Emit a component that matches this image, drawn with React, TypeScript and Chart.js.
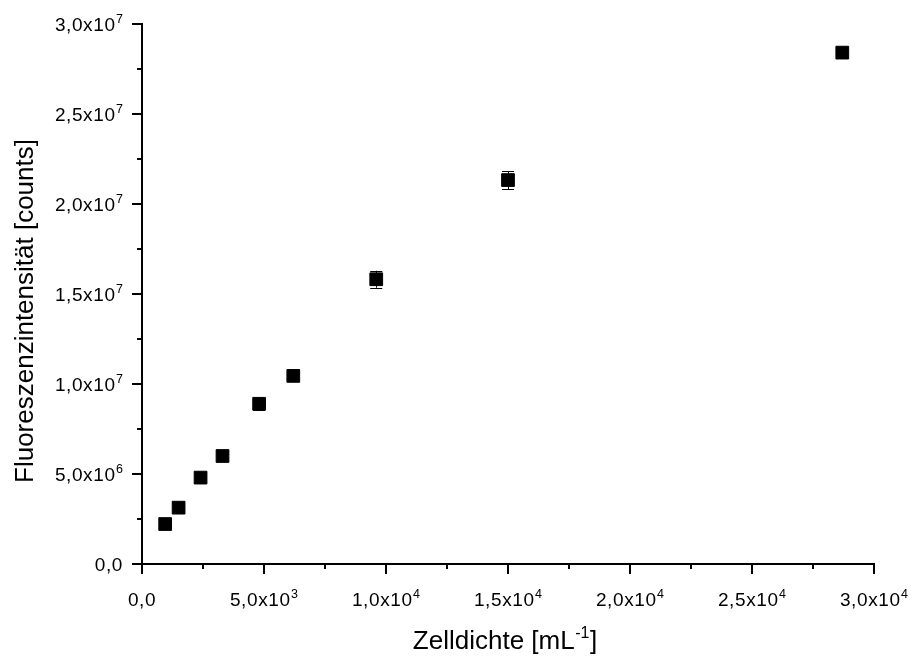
import React, { useEffect, useRef } from "react";
import { Chart, registerables } from "chart.js";

Chart.register(...registerables);

// ---- data ----
const cellDensity = [950, 1500, 2400, 3300, 4800, 6200, 9600, 15000, 28700];
const fluorescence = [2.22e6, 3.13e6, 4.8e6, 6.0e6, 8.9e6, 1.045e7, 1.582e7, 2.133e7, 2.841e7];
const fluorescenceError = [0.3e6, 0.3e6, 0.3e6, 0.3e6, 0.35e6, 0.3e6, 0.47e6, 0.5e6, 0.25e6];

// axis titles: [normal text, superscript, normal text]
const xTitleParts = ["Zelldichte [mL", "-1", "]"];
const yTitle = "Fluoreszenzintensität [counts]";

const xMin = 0;
const xMax = 30000;
const xMinorStep = 2500;
const yMin = 0;
const yMax = 30000000;
const yMinorStep = 2500000;

const FONT = "'Liberation Sans', Arial, sans-serif";
const LABEL_SIZE = 19;
const SUP_SIZE = 12.5;
const TITLE_SIZE = 26;
const TITLE_SUP_SIZE = 16;

// returns [mantissa-part, exponent] e.g. ["2,5x10", "7"] or ["0,0", ""]
function sciParts(v: number): [string, string] {
  if (v === 0) return ["0,0", ""];
  const exp = Math.floor(Math.log10(Math.abs(v)) + 1e-9);
  const m = v / Math.pow(10, exp);
  return [m.toFixed(1).replace(".", ",") + "x10", String(exp)];
}

function measureSci(ctx: CanvasRenderingContext2D, main: string, sup: string) {
  ctx.font = `${LABEL_SIZE}px ${FONT}`;
  (ctx as any).letterSpacing = "0.6px";
  const w1 = ctx.measureText(main).width;
  ctx.font = `${SUP_SIZE}px ${FONT}`;
  (ctx as any).letterSpacing = "0px";
  const w2 = sup ? ctx.measureText(sup).width + 0.5 : 0;
  return { w1, w2 };
}

function drawSci(ctx: CanvasRenderingContext2D, main: string, sup: string, left: number, baseline: number) {
  ctx.textAlign = "left";
  ctx.textBaseline = "alphabetic";
  ctx.font = `${LABEL_SIZE}px ${FONT}`;
  (ctx as any).letterSpacing = "0.6px";
  ctx.fillText(main, left, baseline);
  const w1 = ctx.measureText(main).width;
  if (sup) {
    ctx.font = `${SUP_SIZE}px ${FONT}`;
    (ctx as any).letterSpacing = "0px";
    ctx.fillText(sup, left + w1 + 0.5, baseline - 7.6);
  }
}

const customPlugin = {
  id: "customAxes",
  beforeDatasetsDraw(chart: any) {
    const ctx = chart.ctx;
    const xs = chart.scales.x;
    const ys = chart.scales.y;
    ctx.save();
    ctx.strokeStyle = "#000";
    ctx.lineWidth = 1;
    cellDensity.forEach((xv, i) => {
      const x = xs.getPixelForValue(xv);
      const yTop = ys.getPixelForValue(fluorescence[i] + fluorescenceError[i]);
      const yBot = ys.getPixelForValue(fluorescence[i] - fluorescenceError[i]);
      const cap = 6;
      const xc = Math.round(x) + 0.5;
      ctx.beginPath();
      ctx.moveTo(xc, yTop);
      ctx.lineTo(xc, yBot);
      ctx.moveTo(x - cap, Math.round(yTop) + 0.5);
      ctx.lineTo(x + cap, Math.round(yTop) + 0.5);
      ctx.moveTo(x - cap, Math.round(yBot) + 0.5);
      ctx.lineTo(x + cap, Math.round(yBot) + 0.5);
      ctx.stroke();
    });
    ctx.restore();
  },
  afterDraw(chart: any) {
    const ctx: CanvasRenderingContext2D = chart.ctx;
    const xs = chart.scales.x;
    const ys = chart.scales.y;
    const area = chart.chartArea;
    ctx.save();
    ctx.strokeStyle = "#000";
    ctx.fillStyle = "#000";
    ctx.lineWidth = 2;
    // x ticks + labels
    xs.ticks.forEach((t: any, i: number) => {
      const px = Math.round(xs.getPixelForValue(t.value));
      const major = i % 2 === 0;
      ctx.beginPath();
      ctx.moveTo(px, area.bottom);
      ctx.lineTo(px, area.bottom + (major ? 10 : 5));
      ctx.stroke();
      if (major) {
        const [m, s] = sciParts(t.value);
        const { w1, w2 } = measureSci(ctx, m, s);
        drawSci(ctx, m, s, px - (w1 + w2) / 2, area.bottom + 42);
      }
    });
    // y ticks + labels
    ys.ticks.forEach((t: any, i: number) => {
      const py = Math.round(ys.getPixelForValue(t.value));
      const major = i % 2 === 0;
      ctx.beginPath();
      ctx.moveTo(area.left, py);
      ctx.lineTo(area.left - (major ? 10 : 5), py);
      ctx.stroke();
      if (major) {
        const [m, s] = sciParts(t.value);
        const { w1, w2 } = measureSci(ctx, m, s);
        drawSci(ctx, m, s, area.left - 19 - (w1 + w2), py + 6.7);
      }
    });
    (ctx as any).letterSpacing = "0px";
    // x title with superscript
    ctx.textAlign = "left";
    ctx.textBaseline = "alphabetic";
    ctx.font = `${TITLE_SIZE}px ${FONT}`;
    const a = ctx.measureText(xTitleParts[0]).width;
    const c = ctx.measureText(xTitleParts[2]).width;
    ctx.font = `${TITLE_SUP_SIZE}px ${FONT}`;
    const b = ctx.measureText(xTitleParts[1]).width + 1;
    const total = a + b + c;
    const cx = (area.left + area.right) / 2 - 3;
    const x0 = cx - total / 2;
    const base = 649;
    ctx.font = `${TITLE_SIZE}px ${FONT}`;
    ctx.fillText(xTitleParts[0], x0, base);
    ctx.font = `${TITLE_SUP_SIZE}px ${FONT}`;
    ctx.fillText(xTitleParts[1], x0 + a + 0.5, base - 11);
    ctx.font = `${TITLE_SIZE}px ${FONT}`;
    ctx.fillText(xTitleParts[2], x0 + a + b, base);
    // y title
    ctx.textAlign = "center";
    ctx.translate(33, 311);
    ctx.rotate(-Math.PI / 2);
    ctx.fillText(yTitle, 0, 0);
    ctx.restore();
  },
};

export default function App() {
  const canvasRef = useRef<HTMLCanvasElement | null>(null);

  useEffect(() => {
    if (!canvasRef.current) return;
    const chart = new Chart(canvasRef.current, {
      type: "scatter",
      data: {
        datasets: [
          {
            label: "Fluoreszenz",
            data: cellDensity.map((x, i) => ({ x, y: fluorescence[i] })),
            pointStyle: "rect",
            pointRadius: 9,
            pointHoverRadius: 9,
            backgroundColor: "#000",
            borderColor: "#000",
            borderWidth: 1,
          },
        ],
      },
      options: {
        animation: false,
        responsive: true,
        maintainAspectRatio: false,
        layout: { padding: { top: 24, right: 38, left: 0, bottom: 0 } },
        plugins: {
          legend: { display: false },
          tooltip: { enabled: false },
          title: { display: false },
        },
        scales: {
          x: {
            type: "linear",
            min: xMin,
            max: xMax,
            afterFit: (s: any) => {
              s.height = 93;
            },
            afterBuildTicks: (s: any) => {
              const t = [];
              for (let v = xMin; v <= xMax + 1e-6; v += xMinorStep) t.push({ value: v });
              s.ticks = t;
            },
            grid: { display: false },
            border: { display: true, color: "#000", width: 2 },
            ticks: { display: false, autoSkip: false },
          },
          y: {
            type: "linear",
            min: yMin,
            max: yMax,
            afterFit: (s: any) => {
              s.width = 142;
            },
            afterBuildTicks: (s: any) => {
              const t = [];
              for (let v = yMin; v <= yMax + 1e-6; v += yMinorStep) t.push({ value: v });
              s.ticks = t;
            },
            grid: { display: false },
            border: { display: true, color: "#000", width: 2 },
            ticks: { display: false, autoSkip: false },
          },
        },
      },
      plugins: [customPlugin],
    });
    return () => chart.destroy();
  }, []);

  return (
    <div style={{ position: "fixed", left: 0, top: 0, width: 912, height: 657, background: "#fff" }}>
      <canvas ref={canvasRef} />
    </div>
  );
}
